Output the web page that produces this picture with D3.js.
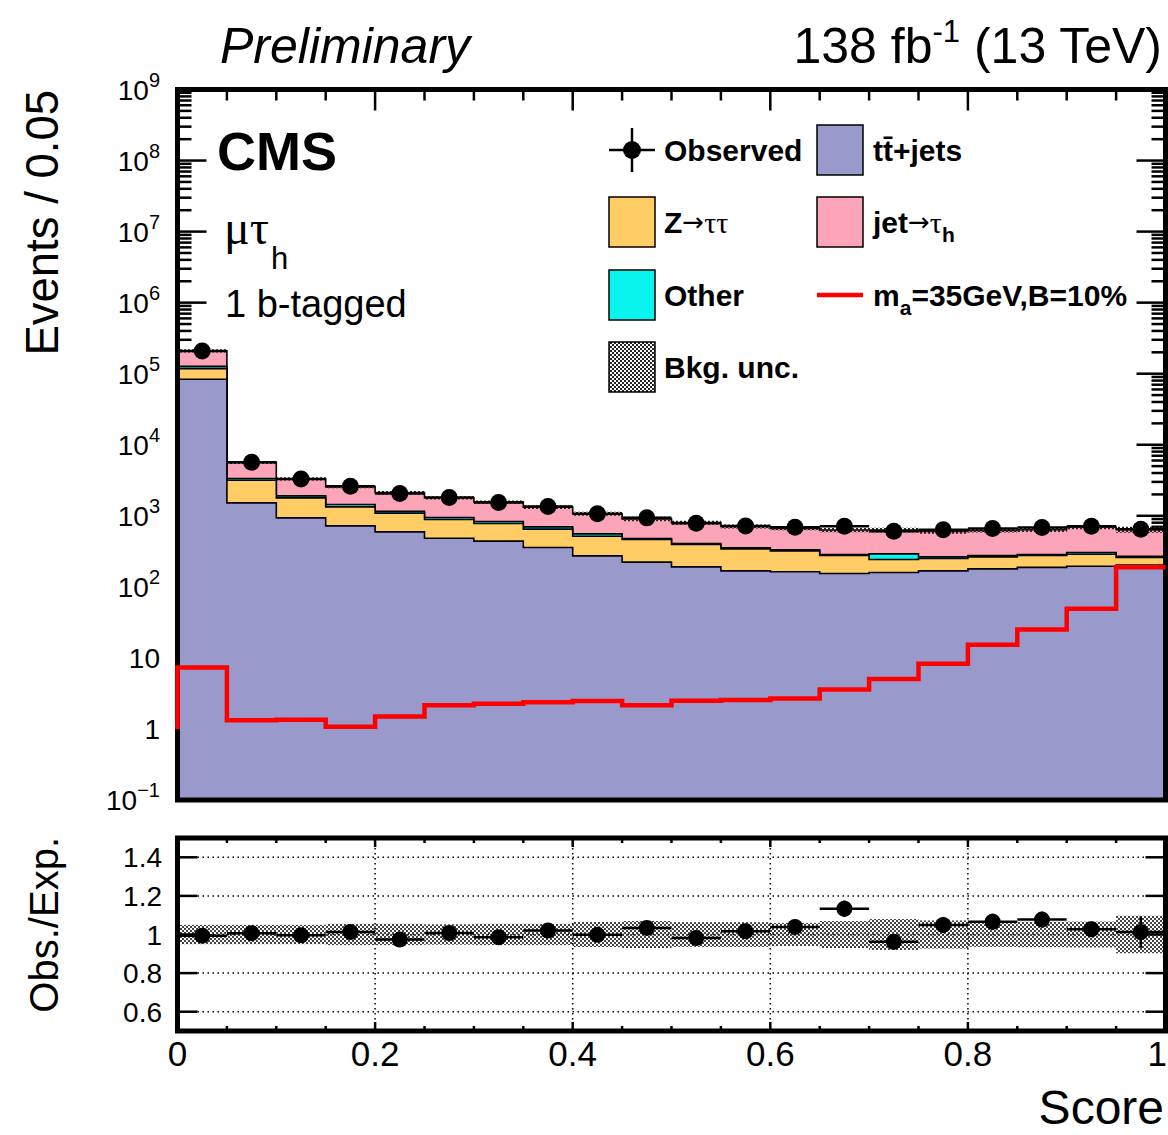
<!DOCTYPE html>
<html><head><meta charset="utf-8">
<script src="https://cdn.jsdelivr.net/npm/d3@7"></script>
<style>body{margin:0;background:#fff}svg{display:block}</style>
</head><body>
<svg id="c" width="1168" height="1135"></svg>
<script>
// ---------------- data ----------------
const binLowEdges = [0,0.05,0.10,0.15,0.20,0.25,0.30,0.35,0.40,0.45,0.50,0.55,0.60,0.65,0.70,0.75,0.80,0.85,0.90,0.95];
const binWidth = 0.05;
const ttjets   = [83400,1520,935,721,594,484,440,358,273,223,191,168,163,154,159,168,179,188,195,202];
const ztautau  = [34600,1650,852,613,495,403,340,291,243,240,203,174,158,122,84,83,85,88,93,57];
const other    = [9000,180,118,108,72,59,52,49,41,16,13,12,10,9,48,13,12,9,17,11];
const jetFakes = [82700,2290,1410,1135,955,850,730,625,510,425,395,355,335,345,340,340,345,350,390,370];
const observed = [208400,5680,3300,2610,2060,1810,1540,1350,1065,935,787,721,692,714,607,634,662,684,714,648];
const observedErr = [456,75,57,51,45,43,39,37,33,31,28,27,26,27,25,25,26,26,27,52];
const signal   = [7.35,1.33,1.35,1.07,1.50,2.15,2.26,2.37,2.47,2.15,2.50,2.55,2.69,3.6,5.03,8.26,15.3,25.1,49.1,188];
const signalStart = 1.0;
const bkgRelUnc = [0.05,0.05,0.05,0.055,0.055,0.053,0.055,0.055,0.065,0.07,0.064,0.064,0.06,0.07,0.08,0.073,0.064,0.066,0.067,0.097];
const xTickLabels = ["0","0.2","0.4","0.6","0.8","1"];
const xTickValues = [0,0.2,0.4,0.6,0.8,1];
const yExponents = [9,8,7,6,5,4,3,2,1,0,-1];
const ratioTicks = [0.6,0.8,1.0,1.2,1.4];
const ratioTickLabels = ["0.6","0.8","1","1.2","1.4"];

// ---------------- setup ----------------
const sans = "'Liberation Sans', Arial, Helvetica, sans-serif";
const serif = "'Liberation Serif', 'Times New Roman', serif";
const arrowFont = "'DejaVu Sans', sans-serif";
const svg = d3.select("#c");
svg.append("rect").attr("width",1168).attr("height",1135).attr("fill","#fff");

const defs = svg.append("defs");
const pat = defs.append("pattern").attr("id","hatch").attr("width",4).attr("height",4)
  .attr("patternUnits","userSpaceOnUse");
pat.append("rect").attr("x",0).attr("y",0).attr("width",2).attr("height",2).attr("fill","#222");
pat.append("rect").attr("x",2).attr("y",2).attr("width",2).attr("height",2).attr("fill","#222");

const X0 = 177.5, X1 = 1165.5;
const x = d3.scaleLinear().domain([0,1]).range([X0,X1]);
const y = d3.scaleLog().domain([0.1,1e9]).range([800,89.5]);
const yr = d3.scaleLinear().domain([0.5,1.5]).range([1031,838]);

const colors = ["#9999cc","#ffcc66","#08f4ec","#fca5b9"];
const layers = [ttjets, ztautau, other, jetFakes];
const cum = [];
layers.forEach((l,k)=>{ cum[k] = l.map((v,i)=> v + (k>0?cum[k-1][i]:0)); });
const total = cum[3];

function stepPts(vals){
  const pts=[];
  vals.forEach((v,i)=>{ pts.push([binLowEdges[i],v]); pts.push([binLowEdges[i]+binWidth,v]); });
  return pts;
}

const main = svg.append("g");

// ---- main ticks (drawn under fills) ----
const tickG = main.append("g").attr("stroke","#000").attr("stroke-width",2.5);
yExponents.forEach(e=>{
  const v = Math.pow(10,e);
  tickG.append("line").attr("x1",X0).attr("x2",X0+29).attr("y1",y(v)).attr("y2",y(v));
  tickG.append("line").attr("x1",X1).attr("x2",X1-29).attr("y1",y(v)).attr("y2",y(v));
  if(e<9) for(let m=2;m<=9;m++){
    const vv=m*v;
    tickG.append("line").attr("x1",X0).attr("x2",X0+14).attr("y1",y(vv)).attr("y2",y(vv));
    tickG.append("line").attr("x1",X1).attr("x2",X1-14).attr("y1",y(vv)).attr("y2",y(vv));
  }
});
d3.range(1,20).forEach(k=>{
  const v=k*0.05, major=(k%4===0);
  tickG.append("line").attr("x1",x(v)).attr("x2",x(v)).attr("y1",89.5).attr("y2",89.5+(major?21:11));
});

// ---- stack ----
const area = d3.area().x(d=>x(d[0])).y0(800).y1(d=>y(d[1]));
const line = d3.line().x(d=>x(d[0])).y(d=>y(d[1]));
for(let k=3;k>=0;k--){
  const pts = stepPts(cum[k]);
  main.append("path").attr("d",area(pts)).attr("fill",colors[k]);
  main.append("path").attr("d",line(pts)).attr("fill","none").attr("stroke","#000").attr("stroke-width",1.6);
}
// ---- uncertainty band on total ----
const bandArea = d3.area().x(d=>x(d[0])).y0(d=>y(d[1]*(1-d[2]))).y1(d=>y(d[1]*(1+d[2])));
const bandPts=[];
total.forEach((v,i)=>{bandPts.push([binLowEdges[i],v,bkgRelUnc[i]]);bandPts.push([binLowEdges[i]+binWidth,v,bkgRelUnc[i]]);});
main.append("path").attr("d",bandArea(bandPts)).attr("fill","url(#hatch)");

// ---- observed ----
const obsG = main.append("g");
observed.forEach((v,i)=>{
  const cx = x(binLowEdges[i]+binWidth/2);
  obsG.append("line").attr("x1",x(binLowEdges[i])).attr("x2",x(binLowEdges[i]+binWidth))
    .attr("y1",y(v)).attr("y2",y(v)).attr("stroke","#000").attr("stroke-width",2.5);
  obsG.append("line").attr("x1",cx).attr("x2",cx).attr("y1",y(v-observedErr[i])).attr("y2",y(v+observedErr[i]))
    .attr("stroke","#000").attr("stroke-width",2.5);
  obsG.append("circle").attr("cx",cx).attr("cy",y(v)).attr("r",8.5).attr("fill","#000");
});

// ---- frame ----
main.append("rect").attr("x",X0).attr("y",89.5).attr("width",X1-X0).attr("height",800-89.5)
  .attr("fill","none").attr("stroke","#000").attr("stroke-width",5);

// ---- signal (drawn over frame, as in reference) ----
const sigPts = [[0,signalStart]].concat(stepPts(signal));
main.append("path").attr("d",line(sigPts)).attr("fill","none").attr("stroke","#ff0000").attr("stroke-width",4.5);

// ---- y tick labels ----
yExponents.forEach(e=>{
  const v=Math.pow(10,e);
  const t = svg.append("text").attr("x",160).attr("y",y(v)+10).attr("text-anchor","end")
    .attr("font-family",sans).attr("font-size",28);
  if(e===0){ t.text("1"); }
  else if(e===1){ t.text("10"); }
  else {
    t.append("tspan").text("10");
    t.append("tspan").attr("dy",-13).attr("font-size",20).text(e<0?"\u2212"+(-e):String(e));
  }
});

// ---- axis titles ----
svg.append("text").attr("transform","translate(58,90) rotate(-90)").attr("text-anchor","end")
  .attr("font-family",sans).attr("font-size",45.5).text("Events / 0.05");
svg.append("text").attr("transform","translate(58,837) rotate(-90)").attr("text-anchor","end")
  .attr("font-family",sans).attr("font-size",40).text("Obs./Exp.");

// ---- header ----
svg.append("text").attr("x",220).attr("y",63).attr("font-family",sans).attr("font-style","italic")
  .attr("font-size",50).text("Preliminary");
const lum = svg.append("text").attr("x",1162).attr("y",63).attr("text-anchor","end")
  .attr("font-family",sans).attr("font-size",50);
lum.append("tspan").text("138 fb");
lum.append("tspan").attr("dy",-21).attr("font-size",31).text("-1");
lum.append("tspan").attr("dy",21).text(" (13 TeV)");

// ---- labels inside ----
svg.append("text").attr("x",217).attr("y",170).attr("font-family",sans).attr("font-weight","bold")
  .attr("font-size",54).text("CMS");
const ch = svg.append("text").attr("x",224).attr("y",244).attr("font-family",serif).attr("font-size",48);
ch.append("tspan").text("\u03bc\u03c4");
ch.append("tspan").attr("font-family",sans).attr("font-size",31).attr("dy",25).attr("dx",2).text("h");
svg.append("text").attr("x",225).attr("y",317).attr("font-family",sans).attr("font-size",38).text("1 b-tagged");

// ---- legend ----
const leg = svg.append("g");
const col1 = 609, col2 = 817, boxW = 46, boxH = 50;
const rows = [150,222,295,367];
function legText(xp, yc){ return leg.append("text").attr("x",xp).attr("y",yc+11).attr("font-family",sans)
  .attr("font-weight","bold").attr("font-size",30); }
// observed
leg.append("line").attr("x1",col1).attr("x2",col1+boxW).attr("y1",rows[0]).attr("y2",rows[0]).attr("stroke","#000").attr("stroke-width",2.5);
leg.append("line").attr("x1",col1+boxW/2).attr("x2",col1+boxW/2).attr("y1",rows[0]-22).attr("y2",rows[0]+22).attr("stroke","#000").attr("stroke-width",2.5);
leg.append("circle").attr("cx",col1+boxW/2).attr("cy",rows[0]).attr("r",9).attr("fill","#000");
legText(664,rows[0]).text("Observed");
// boxes
function legBox(xp,yc,fill){ leg.append("rect").attr("x",xp).attr("y",yc-boxH/2).attr("width",boxW).attr("height",boxH)
  .attr("fill",fill).attr("stroke","#000").attr("stroke-width",1.5); }
legBox(col2,rows[0],colors[0]);
const t1 = legText(873,rows[0]); t1.append("tspan").text("t"); t1.append("tspan").text("t\u0304"); t1.append("tspan").text("+jets");
legBox(col1,rows[1],colors[1]);
const t2 = legText(664,rows[1]); t2.append("tspan").text("Z");
t2.append("tspan").attr("font-family",arrowFont).attr("font-weight","normal").attr("font-size",26).attr("dy",-2).text("\u2192");
t2.append("tspan").attr("font-family",serif).attr("font-weight","normal").attr("dy",2).text("\u03c4\u03c4");
legBox(col2,rows[1],colors[3]);
const t3 = legText(873,rows[1]); t3.append("tspan").text("jet");
t3.append("tspan").attr("font-family",arrowFont).attr("font-weight","normal").attr("font-size",26).attr("dy",-2).text("\u2192");
t3.append("tspan").attr("font-family",serif).attr("font-weight","normal").attr("dy",2).text("\u03c4");
t3.append("tspan").attr("font-size",21).attr("dy",9).text("h");
legBox(col1,rows[2],colors[2]);
legText(664,rows[2]).text("Other");
leg.append("line").attr("x1",col2).attr("x2",col2+boxW).attr("y1",rows[2]).attr("y2",rows[2]).attr("stroke","#ff0000").attr("stroke-width",4.5);
const t4 = legText(873,rows[2]); t4.append("tspan").text("m");
t4.append("tspan").attr("font-size",21).attr("dy",9).text("a");
t4.append("tspan").attr("dy",-9).text("=35GeV,B=10%");
leg.append("rect").attr("x",col1).attr("y",rows[3]-boxH/2).attr("width",boxW).attr("height",boxH).attr("fill","#fff");
legBox(col1,rows[3],"url(#hatch)");
legText(664,rows[3]).text("Bkg. unc.");

// ---------------- ratio panel ----------------
const rp = svg.append("g");
const RT = 838, RB = 1031;
// grid
const grid = rp.append("g").attr("stroke","#000").attr("stroke-width",1.5).attr("stroke-dasharray","1.5,3.5");
ratioTicks.forEach(v=>grid.append("line").attr("x1",X0).attr("x2",X1).attr("y1",yr(v)).attr("y2",yr(v)));
[0.2,0.4,0.6,0.8].forEach(v=>grid.append("line").attr("x1",x(v)).attr("x2",x(v)).attr("y1",RT).attr("y2",RB));
// band
bkgRelUnc.forEach((u,i)=>{
  rp.append("rect").attr("x",x(binLowEdges[i])).attr("width",x(binLowEdges[i]+binWidth)-x(binLowEdges[i]))
    .attr("y",yr(1+u)).attr("height",yr(1-u)-yr(1+u)).attr("fill","url(#hatch)").attr("opacity",0.85);
});
// ticks
const rt = rp.append("g").attr("stroke","#000").attr("stroke-width",2.5);
ratioTicks.forEach(v=>{
  rt.append("line").attr("x1",X0).attr("x2",X0+20).attr("y1",yr(v)).attr("y2",yr(v));
  rt.append("line").attr("x1",X1).attr("x2",X1-20).attr("y1",yr(v)).attr("y2",yr(v));
});
d3.range(1,20).forEach(k=>{
  const v=k*0.05, major=(k%4===0), len=major?9:5;
  rt.append("line").attr("x1",x(v)).attr("x2",x(v)).attr("y1",RT).attr("y2",RT+len);
  rt.append("line").attr("x1",x(v)).attr("x2",x(v)).attr("y1",RB).attr("y2",RB-len);
});
// points
observed.forEach((v,i)=>{
  const r = v/total[i], re = observedErr[i]/total[i];
  const cx = x(binLowEdges[i]+binWidth/2);
  rp.append("line").attr("x1",x(binLowEdges[i])).attr("x2",x(binLowEdges[i]+binWidth))
    .attr("y1",yr(r)).attr("y2",yr(r)).attr("stroke","#000").attr("stroke-width",2.5);
  rp.append("line").attr("x1",cx).attr("x2",cx).attr("y1",yr(r-re)).attr("y2",yr(r+re))
    .attr("stroke","#000").attr("stroke-width",2.5);
  rp.append("circle").attr("cx",cx).attr("cy",yr(r)).attr("r",8).attr("fill","#000");
});
rp.append("rect").attr("x",X0).attr("y",RT).attr("width",X1-X0).attr("height",RB-RT)
  .attr("fill","none").attr("stroke","#000").attr("stroke-width",5);
ratioTicks.forEach((v,i)=>{
  svg.append("text").attr("x",162).attr("y",yr(v)+10).attr("text-anchor","end")
    .attr("font-family",sans).attr("font-size",28).text(ratioTickLabels[i]);
});
xTickValues.forEach((v,i)=>{
  const last = (i===xTickValues.length-1);
  svg.append("text").attr("x",last?1167:x(v)).attr("y",1066).attr("text-anchor",last?"end":"middle")
    .attr("font-family",sans).attr("font-size",35).text(xTickLabels[i]);
});
svg.append("text").attr("x",1164).attr("y",1124).attr("text-anchor","end")
  .attr("font-family",sans).attr("font-size",48).text("Score");
</script>
</body></html>
